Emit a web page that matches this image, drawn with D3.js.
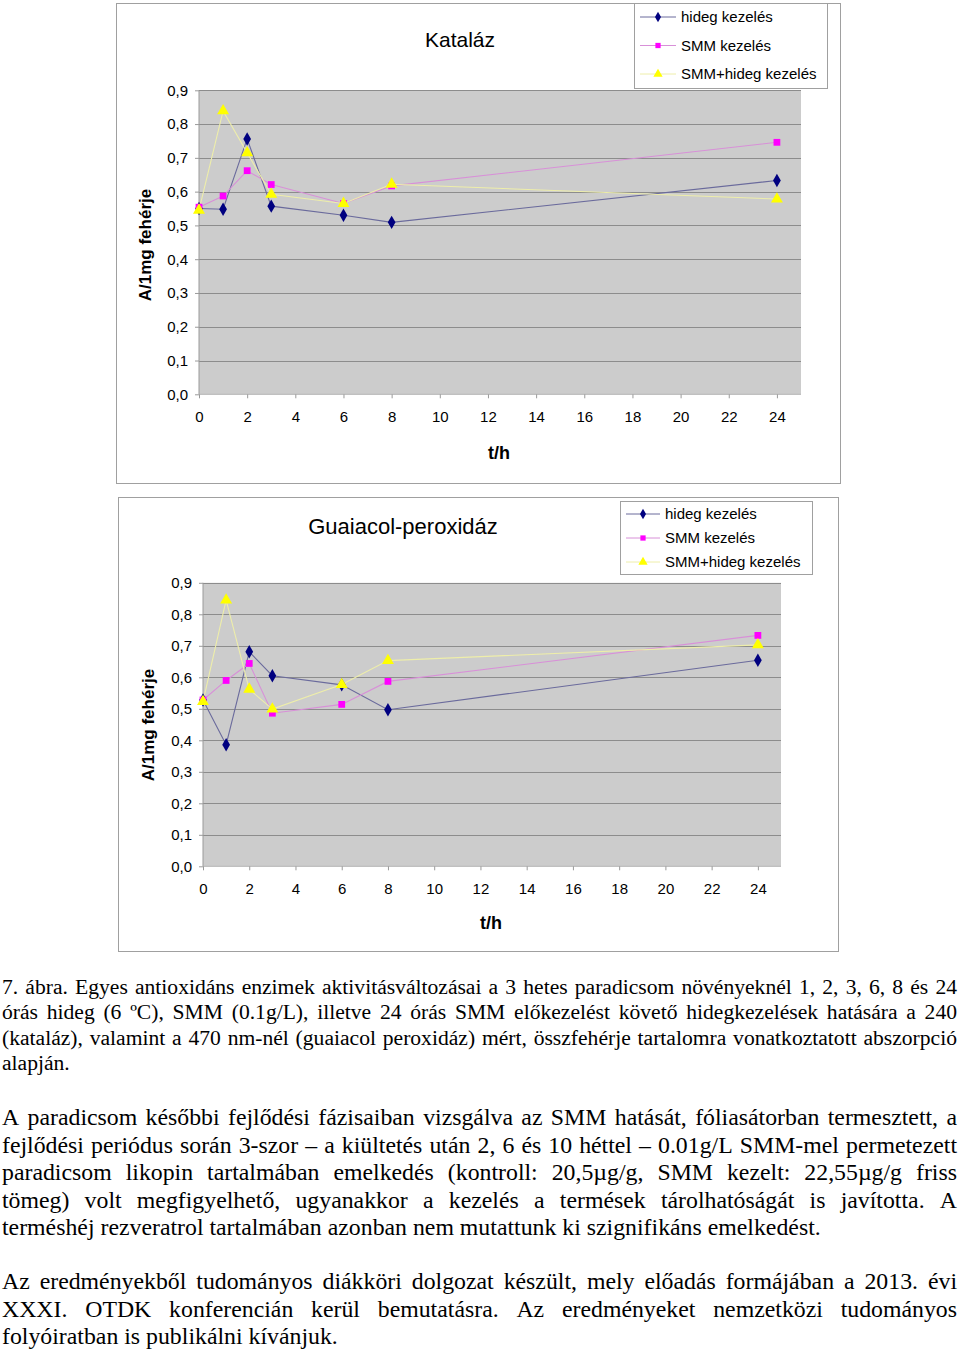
<!DOCTYPE html>
<html>
<head>
<meta charset="utf-8">
<script src="https://cdn.jsdelivr.net/npm/d3@7"></script>
<style>
html,body{margin:0;padding:0;background:#fff;}
svg{display:block;}
</style>
</head>
<body>
<svg id="c" width="960" height="1350"></svg>
<script>
// ---- data ----
const hours = [0, 1, 2, 3, 6, 8, 24];
const seriesNames = ["hideg kezelés", "SMM kezelés", "SMM+hideg kezelés"];
const katHideg    = [0.550, 0.548, 0.756, 0.557, 0.530, 0.509, 0.633];
const katSMM      = [0.554, 0.587, 0.662, 0.621, 0.565, 0.617, 0.746];
const katSMMHideg = [0.545, 0.839, 0.715, 0.592, 0.565, 0.622, 0.578];
const guaHideg    = [0.528, 0.386, 0.681, 0.605, 0.576, 0.497, 0.654];
const guaSMM      = [0.528, 0.590, 0.644, 0.486, 0.514, 0.587, 0.733];
const guaSMMHideg = [0.523, 0.845, 0.562, 0.499, 0.577, 0.653, 0.703];
const xTicks = [0, 2, 4, 6, 8, 10, 12, 14, 16, 18, 20, 22, 24];
const yTicks = [0, 0.1, 0.2, 0.3, 0.4, 0.5, 0.6, 0.7, 0.8, 0.9];
const titles = ["Kataláz", "Guaiacol-peroxidáz"];
const yTitle = "A/1mg fehérje";
const xTitle = "t/h";

const paragraphs = [
  ["7. ábra. Egyes antioxidáns enzimek aktivitásváltozásai a 3 hetes paradicsom növényeknél 1, 2, 3, 6, 8 és 24",
   "órás hideg (6 ºC), SMM (0.1g/L), illetve 24 órás SMM előkezelést követő hidegkezelések hatására a 240",
   "(kataláz), valamint a 470 nm-nél (guaiacol peroxidáz) mért, összfehérje tartalomra vonatkoztatott abszorpció",
   "alapján."],
  ["A paradicsom későbbi fejlődési fázisaiban vizsgálva az SMM hatását, fóliasátorban termesztett, a",
   "fejlődési periódus során 3-szor – a kiültetés után 2, 6 és 10 héttel – 0.01g/L SMM-mel permetezett",
   "paradicsom likopin tartalmában emelkedés (kontroll: 20,5µg/g, SMM kezelt: 22,55µg/g friss",
   "tömeg) volt megfigyelhető, ugyanakkor a kezelés a termések tárolhatóságát is javította. A",
   "terméshéj rezveratrol tartalmában azonban nem mutattunk ki szignifikáns emelkedést."],
  ["Az eredményekből tudományos diákköri dolgozat készült, mely előadás formájában a 2013. évi",
   "XXXI. OTDK konferencián kerül bemutatásra. Az eredményeket nemzetközi tudományos",
   "folyóiratban is publikálni kívánjuk."]
];

// ---- drawing ----
const svg = d3.select("#c");
const colors = ["#000080", "#FF00FF", "#FFFF00"];
const lineColors = ["#6a6a9c", "#d890d8", "#eeeeaa"];

function drawChart(cfg) {
  const g = svg.append("g");
  g.append("rect").attr("x", cfg.frame[0] + 0.5).attr("y", cfg.frame[1] + 0.5)
    .attr("width", cfg.frame[2]).attr("height", cfg.frame[3])
    .attr("fill", "#fff").attr("stroke", "#a0a0a0");

  const x = d3.scaleLinear().domain([0, 25]).range([cfg.px0, cfg.px1]);
  const y = d3.scaleLinear().domain([0, 0.9]).range([cfg.py0, cfg.py1]);

  g.append("rect").attr("x", x(0)).attr("y", y(0.9))
    .attr("width", x(25) - x(0)).attr("height", y(0) - y(0.9))
    .attr("fill", "#cccccc");

  g.selectAll(".grid").data(yTicks.slice(1)).join("line")
    .attr("x1", x(0)).attr("x2", x(25))
    .attr("y1", d => Math.round(y(d)) + 0.5).attr("y2", d => Math.round(y(d)) + 0.5)
    .attr("stroke", "#8c8c8c").attr("stroke-width", 1);

  const fmt = d => d3.format(".1f")(d).replace(".", ",");
  const yAxis = d3.axisLeft(y).tickValues(yTicks).tickFormat(fmt).tickSize(4).tickPadding(7);
  const ya = g.append("g").attr("transform", `translate(${x(0)},0)`).call(yAxis);
  ya.select(".domain").attr("stroke", "#9a9a9a").attr("d", `M0,${y(0.9)}V${y(0)}`);
  ya.selectAll(".tick line").attr("stroke", "#9a9a9a");
  ya.selectAll("text").attr("font-family", "Liberation Sans, Arial, sans-serif")
    .attr("font-size", cfg.tickFont).attr("fill", "#000");

  const xAxis = d3.axisBottom(x).tickValues(xTicks).tickFormat(d3.format("d")).tickSize(4).tickPadding(cfg.xPad);
  const xa = g.append("g").attr("transform", `translate(0,${y(0)})`).call(xAxis);
  xa.select(".domain").attr("stroke", "#b4b4b4").attr("d", `M${x(0)},0H${x(25)}`);
  xa.selectAll(".tick line").attr("stroke", "#9a9a9a");
  xa.selectAll("text").attr("font-family", "Liberation Sans, Arial, sans-serif")
    .attr("font-size", cfg.tickFont).attr("fill", "#000");

  g.append("text").attr("x", cfg.titlePos[0]).attr("y", cfg.titlePos[1])
    .attr("text-anchor", "middle").attr("font-family", "Liberation Sans, Arial, sans-serif")
    .attr("font-size", cfg.titleFont).text(cfg.title);
  g.append("text").attr("transform", `translate(${cfg.yTitlePos[0]},${cfg.yTitlePos[1]}) rotate(-90)`)
    .attr("text-anchor", "middle").attr("font-family", "Liberation Sans, Arial, sans-serif")
    .attr("font-weight", "bold").attr("font-size", 17).text(yTitle);
  g.append("text").attr("x", cfg.xTitlePos[0]).attr("y", cfg.xTitlePos[1])
    .attr("text-anchor", "middle").attr("font-family", "Liberation Sans, Arial, sans-serif")
    .attr("font-weight", "bold").attr("font-size", 18).text(xTitle);

  const line = d3.line().x(d => x(d[0])).y(d => y(d[1]));
  const symbols = [d3.symbolDiamond, d3.symbolSquare, d3.symbolTriangle];
  const symSizes = [52, 46, 62];
  cfg.series.forEach((vals, i) => {
    const pts = hours.map((h, j) => [h, vals[j]]);
    g.append("path").attr("d", line(pts)).attr("fill", "none")
      .attr("stroke", lineColors[i]).attr("stroke-width", 1.1);
  });
  cfg.series.forEach((vals, i) => {
    const pts = hours.map((h, j) => [h, vals[j]]);
    g.selectAll(".m" + i).data(pts).join("path")
      .attr("transform", d => `translate(${x(d[0])},${y(d[1])})`)
      .attr("d", d3.symbol().type(symbols[i]).size(symSizes[i]))
      .attr("fill", colors[i]);
  });

  const L = cfg.legend;
  g.append("rect").attr("x", L.x + 0.5).attr("y", L.y + 0.5).attr("width", L.w).attr("height", L.h)
    .attr("fill", "#fff").attr("stroke", "#a0a0a0");
  seriesNames.forEach((name, i) => {
    const ly = L.y + L.first + i * L.step;
    g.append("line").attr("x1", L.x + 6).attr("x2", L.x + 6 + L.lineLen)
      .attr("y1", ly).attr("y2", ly).attr("stroke", lineColors[i]).attr("stroke-width", 1);
    g.append("path").attr("transform", `translate(${L.x + 6 + L.lineLen / 2},${ly})`)
      .attr("d", d3.symbol().type(symbols[i]).size(symSizes[i] * 0.6)).attr("fill", colors[i]);
    g.append("text").attr("x", L.x + 6 + L.lineLen + 5).attr("y", ly).attr("dy", "0.35em")
      .attr("font-family", "Liberation Sans, Arial, sans-serif").attr("font-size", 15).text(name);
  });
}

drawChart({
  frame: [116, 3, 724, 480],
  px0: 199, px1: 801, py0: 394.3, py1: 90.3,
  tickFont: 15, xPad: 13, titleFont: 21,
  title: titles[0], titlePos: [460, 47],
  yTitlePos: [151, 245], xTitlePos: [499, 459],
  series: [katHideg, katSMM, katSMMHideg],
  legend: {x: 634, y: 3, w: 193, h: 85, first: 14, step: 28.5, lineLen: 36}
});
drawChart({
  frame: [118, 497, 720, 454],
  px0: 203, px1: 781, py0: 866.3, py1: 582.8,
  tickFont: 15, xPad: 13, titleFont: 22,
  title: titles[1], titlePos: [403, 534],
  yTitlePos: [154, 725], xTitlePos: [491, 929],
  series: [guaHideg, guaSMM, guaSMMHideg],
  legend: {x: 620, y: 501, w: 192, h: 73, first: 13, step: 24, lineLen: 34}
});

// ---- body text, justified ----
const textCfg = [
  {size: 21.6, base: 994, step: 25.4},
  {size: 23.8, base: 1125, step: 27.5},
  {size: 23.8, base: 1289, step: 27.5}
];
const left = 2, right = 957;
const tg = svg.append("g").attr("font-family", "Liberation Serif, Times New Roman, serif").attr("fill", "#000");
paragraphs.forEach((lines, p) => {
  const c = textCfg[p];
  lines.forEach((ln, k) => {
    const yy = c.base + k * c.step;
    const last = k === lines.length - 1;
    const words = ln.split(" ");
    const t = tg.append("text").attr("y", yy).attr("font-size", c.size);
    if (last) { t.attr("x", left).text(ln); return; }
    const widths = words.map(w => {
      const m = tg.append("text").attr("font-size", c.size).text(w);
      const wd = m.node().getComputedTextLength();
      m.remove();
      return wd;
    });
    const total = d3.sum(widths);
    const gap = (right - left - total) / (words.length - 1);
    let cx = left;
    words.forEach((w, i) => {
      t.append("tspan").attr("x", cx).text(w);
      cx += widths[i] + gap;
    });
  });
});
</script>
</body>
</html>
